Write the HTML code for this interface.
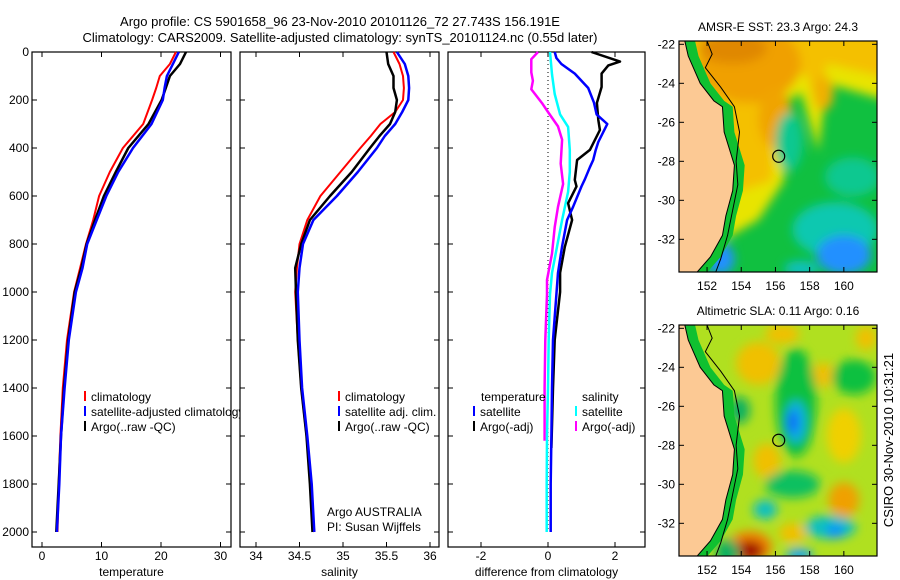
<!DOCTYPE html>
<html><head><meta charset="utf-8"><style>
html,body{margin:0;padding:0;background:#fff;}
svg{display:block;font-family:"Liberation Sans",sans-serif;}
</style></head><body>
<svg id="fig" width="900" height="580" viewBox="0 0 900 580" xmlns="http://www.w3.org/2000/svg">
<defs>
<filter id="blur" x="-20%" y="-20%" width="140%" height="140%"><feGaussianBlur stdDeviation="5"/></filter>
<clipPath id="clipM1"><rect x="679" y="41" width="198" height="231"/></clipPath>
<clipPath id="clipM2"><rect x="679" y="325" width="198" height="231"/></clipPath>
</defs>
<text x="340" y="26" font-size="13" text-anchor="middle">Argo profile: CS 5901658_96 23-Nov-2010 20101126_72 27.743S 156.191E</text>
<text x="340" y="42" font-size="13" text-anchor="middle">Climatology: CARS2009. Satellite-adjusted climatology: synTS_20101124.nc (0.55d later)</text>
<g id="plots"></g>
<g id="maps"></g>
<text transform="translate(893,440) rotate(-90)" font-size="13" text-anchor="middle">CSIRO 30-Nov-2010 10:31:21</text>
</svg>
<script>
// ---------- data ----------
const yTicks = [0,200,400,600,800,1000,1200,1400,1600,1800,2000];
const tempTicks = [0,10,20,30];
const salTicks = [34,34.5,35,35.5,36];
const diffTicks = [-2,0,2];

const tempDepth = [0,50,100,150,200,300,400,500,600,700,800,900,1000,1200,1400,1600,1800,2000];
const tempClim = [22.5,21.5,19.8,19.2,18.5,17,13.6,11.4,9.6,8.6,7.4,6.4,5.4,4.2,3.5,3.1,2.8,2.6];
const tempSat  = [23.0,22.0,21.0,20.6,20.3,18.4,15.3,12.8,10.8,9.2,7.6,6.8,5.7,4.5,3.8,3.2,2.9,2.5];
const tempArgo = [24.2,23.2,21.5,20.8,20.1,17.9,14.5,12.4,10.4,8.9,7.5,6.6,5.5,4.4,3.7,3.2,2.8,2.4];

const salDepth = [0,50,100,150,200,250,300,350,400,500,600,700,800,900,1000,1200,1400,1600,1800,2000];
const salClim = [35.58,35.65,35.69,35.7,35.69,35.6,35.43,35.32,35.2,34.97,34.74,34.59,34.5,34.47,34.45,34.48,34.52,34.58,34.63,34.67];
const salSat  = [35.62,35.71,35.75,35.76,35.75,35.68,35.6,35.48,35.39,35.17,34.93,34.66,34.54,34.5,34.48,34.5,34.53,34.59,34.64,34.67];
const salArgo = [35.5,35.52,35.58,35.58,35.62,35.6,35.54,35.42,35.31,35.1,34.85,34.62,34.52,34.45,34.46,34.48,34.52,34.58,34.62,34.65];

const dTSatDepth = [0,25,50,90,150,210,260,300,375,410,450,480,530,560,645,700,810,920,1010,1200,1400,1600,1800,2000];
const dTSat = [0.2,0.25,0.4,0.8,1.2,1.37,1.45,1.77,1.5,1.42,1.35,1.25,1.1,1.0,0.75,0.57,0.42,0.3,0.25,0.15,0.12,0.1,0.08,0.08];
const dTArgoDepth = [0,40,56,90,146,212,283,325,408,450,533,560,630,700,812,920,1000,1200,1400,1650];
const dTArgo = [1.3,2.15,1.8,1.6,1.6,1.46,1.5,1.55,1.25,0.87,0.8,0.85,0.6,0.72,0.5,0.36,0.36,0.2,0.15,0.1];
const dSSatDepth = [0,93,175,260,312,408,500,583,700,812,920,1010,1200,1400,1600,1800,2000];
const dSSat = [0.06,0.12,0.2,0.36,0.6,0.65,0.65,0.6,0.42,0.27,0.12,0.06,0.02,0,-0.03,-0.04,-0.04];
const dSArgoDepth = [0,30,85,120,155,213,250,310,365,465,550,645,730,840,950,1010,1200,1400,1620];
const dSArgo = [-0.3,-0.5,-0.5,-0.45,-0.5,-0.18,0,0.3,0.42,0.38,0.45,0.3,0.2,0.12,-0.03,-0.03,-0.08,-0.1,-0.1];

const lonTicks = [152,154,156,158,160];
const latTicks = [-22,-24,-26,-28,-30,-32];

// ---------- helpers ----------
const NS = "http://www.w3.org/2000/svg";
function mk(tag, attrs, parent){const e=document.createElementNS(NS,tag);for(const k in attrs)e.setAttribute(k,attrs[k]);parent.appendChild(e);return e;}
const plots = document.getElementById('plots');
const TOP=52, BOT=547;
function yScale(d){return 52 + d*0.24;}

function panel(name, left, right, xScale, ticks, label, showY){
  const g = mk('g',{},plots);
  
  
  const r = mk('rect',{x:left,y:TOP,width:right-left,height:BOT-TOP,fill:'#fff',stroke:'#000','stroke-width':1.2},g);
  
  
  ticks.forEach(t=>{
    const x = xScale(t);
    mk('line',{x1:x,x2:x,y1:BOT,y2:BOT-5,stroke:'#000'},g);
    mk('line',{x1:x,x2:x,y1:TOP,y2:TOP+5,stroke:'#000'},g);
    const tl = mk('text',{x:x,y:BOT+13,'font-size':12,'text-anchor':'middle'},g);
    tl.textContent = String(t);
    
    
  });
  yTicks.forEach(t=>{
    const y = yScale(t);
    mk('line',{x1:left,x2:left+5,y1:y,y2:y,stroke:'#000'},g);
    mk('line',{x1:right,x2:right-5,y1:y,y2:y,stroke:'#000'},g);
    if(showY){
      const tl = mk('text',{x:left-3,y:y+4,'font-size':12,'text-anchor':'end'},g);
      tl.textContent = String(t);
      
      
    }
  });
  const xl = mk('text',{x:(left+right)/2,y:BOT+29,'font-size':12,'text-anchor':'middle'},g);
  xl.textContent = label;
  
  
  return g;
}
function series(g, name, depth, vals, xScale, color, w){
  const pts = vals.map((v,i)=>xScale(v).toFixed(1)+','+yScale(depth[i]).toFixed(1)).join(' ');
  const p = mk('polyline',{points:pts,fill:'none',stroke:color,'stroke-width':w,'stroke-linejoin':'round'},g);
  
  
}
function legend(g, x, y, color, text, name){
  mk('line',{x1:x,x2:x,y1:y-10,y2:y,stroke:color,'stroke-width':2},g);
  const t = mk('text',{x:x+6,y:y,'font-size':12},g);
  t.textContent = text;
  
  
}

// ---------- panel 1: temperature ----------
const xT = v => 42 + v*5.95;
const g1 = panel('temperature-panel', 32, 231, xT, tempTicks, 'temperature', true);
series(g1,'temp-climatology-line',tempDepth,tempClim,xT,'#f00',2);
series(g1,'temp-argo-line',tempDepth,tempArgo,xT,'#000',2.5);
series(g1,'temp-satellite-line',tempDepth,tempSat,xT,'#00f',2.5);
legend(g1,85,401,'#f00','climatology','legend-climatology');
legend(g1,85,416,'#00f','satellite-adjusted climatology','legend-satellite-adjusted');
legend(g1,85,431,'#000','Argo(..raw -QC)','legend-argo');

// ---------- panel 2: salinity ----------
const xS = v => 256 + (v-34)*87;
const g2 = panel('salinity-panel', 240, 439, xS, salTicks, 'salinity', false);
series(g2,'sal-climatology-line',salDepth,salClim,xS,'#f00',2);
series(g2,'sal-argo-line',salDepth,salArgo,xS,'#000',2.5);
series(g2,'sal-satellite-line',salDepth,salSat,xS,'#00f',2.5);
legend(g2,339,401,'#f00','climatology','legend-climatology');
legend(g2,339,416,'#00f','satellite adj. clim.','legend-satellite-adj');
legend(g2,339,431,'#000','Argo(..raw -QC)','legend-argo');
const a1 = mk('text',{x:327,y:516,'font-size':12},g2); a1.textContent='Argo AUSTRALIA';


const a2 = mk('text',{x:327,y:531,'font-size':12},g2); a2.textContent='PI: Susan Wijffels';



// ---------- panel 3: differences ----------
const xD = v => 548 + v*33.5;
const g3 = panel('difference-panel', 448, 645, xD, diffTicks, 'difference from climatology', false);
mk('line',{x1:xD(0),x2:xD(0),y1:TOP,y2:yScale(2000),stroke:'#000','stroke-dasharray':'1,3'},g3);
series(g3,'diff-sal-argo-line',dSArgoDepth,dSArgo,xD,'#f0f',2.5);
series(g3,'diff-sal-satellite-line',dSSatDepth,dSSat,xD,'#0ff',2.5);
series(g3,'diff-temp-argo-line',dTArgoDepth,dTArgo,xD,'#000',2.5);
series(g3,'diff-temp-satellite-line',dTSatDepth,dTSat,xD,'#00f',2.5);
const h1 = mk('text',{x:481,y:401,'font-size':12},g3); h1.textContent='temperature';


const h2 = mk('text',{x:582,y:401,'font-size':12},g3); h2.textContent='salinity';


legend(g3,474,416,'#00f','satellite','legend-temp-satellite');
legend(g3,474,431,'#000','Argo(-adj)','legend-temp-argo');
legend(g3,576,416,'#0ff','satellite','legend-sal-satellite');
legend(g3,576,431,'#f0f','Argo(-adj)','legend-sal-argo');

// ---------- maps ----------
const maps = document.getElementById('maps');
function mapPanel(name, top, title, blobs, base){
  const X = lon => 679 + (lon-150.36)*17.1;
  const Y = lat => top + (-21.83 - lat)*19.5;
  const g = mk('g',{},maps);
  
  
  const clip = mk('g',{'clip-path':'url(#'+(top<100?'clipM1':'clipM2')+')'},g);
  mk('rect',{x:679,y:top,width:198,height:231,fill:base},clip);
  const bg = mk('g',{filter:'url(#blur)'},clip);
  blobs.forEach(b=>{
    if(b[0]==='e') mk('ellipse',{cx:X(b[1]),cy:Y(b[2]),rx:b[3]*17.1,ry:b[4]*19.5,fill:b[5]},bg);
    else mk('polygon',{points:b[1].map(p=>X(p[0])+','+Y(p[1])).join(' '),fill:b[2]},bg);
  });
  const coast = [[150.36,-21.83],[150.7,-21.83],[150.9,-22.6],[151.6,-24],[152.4,-24.9],[152.9,-25.2],[153.0,-26.5],[153.6,-28.2],[153.5,-29.5],[153.1,-30.8],[152.9,-31.8],[152.2,-32.9],[151.4,-33.7],[150.36,-33.7]];
  const green = coast.map(p=>[p[0]+0.6,p[1]]);
  mk('polygon',{points:coast.slice(1,13).map(p=>X(p[0])+','+Y(p[1])).concat(green.slice(1,13).reverse().map(p=>X(p[0])+','+Y(p[1]))).join(' '),fill:'#10c030'},clip);
  const land = mk('polygon',{points:coast.map(p=>X(p[0])+','+Y(p[1])).join(' '),fill:'#fcc994',stroke:'#000','stroke-width':1},clip);
  
  
  const iso = [[152.0,-21.83],[152.3,-22.5],[151.9,-23.2],[152.8,-24.2],[153.6,-25.2],[153.9,-26.5],[153.7,-28],[153.8,-29.2],[153.5,-30.5],[153.2,-31.8],[152.8,-33],[152.5,-33.7]];
  mk('polyline',{points:iso.map(p=>X(p[0])+','+Y(p[1])).join(' '),fill:'none',stroke:'#000','stroke-width':1},clip);
  mk('circle',{cx:X(156.19),cy:Y(-27.74),r:6,fill:'none',stroke:'#000','stroke-width':1.2},clip);
  mk('rect',{x:679,y:top,width:198,height:231,fill:'none',stroke:'#000','stroke-width':1.2},g);
  lonTicks.forEach(l=>{
    mk('line',{x1:X(l),x2:X(l),y1:top+231,y2:top+226,stroke:'#000'},g);
    mk('line',{x1:X(l),x2:X(l),y1:top,y2:top+5,stroke:'#000'},g);
    const t = mk('text',{x:X(l),y:top+249,'font-size':12,'text-anchor':'middle'},g); t.textContent=String(l);
    
    
  });
  latTicks.forEach(l=>{
    mk('line',{x1:679,x2:684,y1:Y(l),y2:Y(l),stroke:'#000'},g);
    mk('line',{x1:877,x2:872,y1:Y(l),y2:Y(l),stroke:'#000'},g);
    const t = mk('text',{x:675,y:Y(l)+4,'font-size':12,'text-anchor':'end'},g); t.textContent=String(l);
    
    
  });
  const tt = mk('text',{x:778,y:top-10,'font-size':12,'text-anchor':'middle'},g); tt.textContent=title;
  
  
}
mapPanel('sst-map',41,'AMSR-E SST: 23.3 Argo: 24.3',[
  ['p',[[150,-21],[163,-21],[163,-25],[159,-24],[158.5,-27.5],[157.5,-24.5],[156.5,-25],[156.5,-29],[155,-31],[153,-32],[150,-32]],'#e8e400'],
  ['p',[[150,-21],[163,-21],[163,-23.8],[159,-23],[158.5,-25.5],[157.8,-23.5],[156,-24],[155.8,-29],[154,-29.5],[150,-29]],'#f4c000'],
  ['e',154.5,-23,3,2,'#f0a000'],['e',153.5,-22.2,2,0.8,'#e08800'],['e',156,-25.8,1,1.5,'#f0a400'],['e',158.8,-24.5,0.6,0.9,'#f0b000'],
  ['e',156.8,-27,0.8,1.5,'#10c890'],['e',160.5,-28.8,1.6,1,'#10c890'],['e',159.5,-31.5,2.5,1.4,'#10c8b0'],['e',160,-32.8,1.6,1,'#2090ff'],['e',157.5,-33.5,1,0.4,'#10c0c0'],['e',152.8,-33,0.8,0.8,'#2090ff']
],'#10c040');
mapPanel('sla-map',325,'Altimetric SLA: 0.11 Argo: 0.16',[
  ['e',155,-23.8,1.3,1.1,'#f0c000'],['e',156.4,-22.3,1,0.5,'#f0c000'],['e',158.8,-24.4,0.8,0.6,'#f0c000'],['e',161.3,-22.5,0.6,0.6,'#f0c000'],
  ['e',157.2,-25.8,1.2,2.8,'#10c040'],['e',157.2,-26.8,0.6,1.1,'#10b0e0'],['e',157,-26.8,0.3,0.6,'#1060ff'],
  ['e',160.6,-24.5,1.3,0.9,'#10c040'],['e',153.9,-26.2,0.6,0.7,'#10b060'],
  ['e',155.5,-28.8,0.8,0.9,'#f0c000'],['e',160,-27.5,1,1.4,'#f0d000'],['e',160,-30.8,0.9,0.9,'#f0a000'],
  ['e',157,-30,1.6,0.7,'#10c060'],['e',155.4,-31.3,0.7,0.5,'#10c0c0'],['e',159.2,-32.2,1.5,0.6,'#10c0c0'],['e',159.5,-32.4,0.5,0.35,'#1090ff'],
  ['e',154.5,-33.2,1.3,0.8,'#f08000'],['e',154.5,-33.4,0.8,0.5,'#a01000'],['e',157,-32.5,0.8,0.5,'#f0c000'],['e',157.4,-33.6,0.8,0.3,'#10a0ff'],
  ['e',153.2,-33.5,0.7,0.7,'#10b060']
],'#b0e020');
</script>
</body></html>
